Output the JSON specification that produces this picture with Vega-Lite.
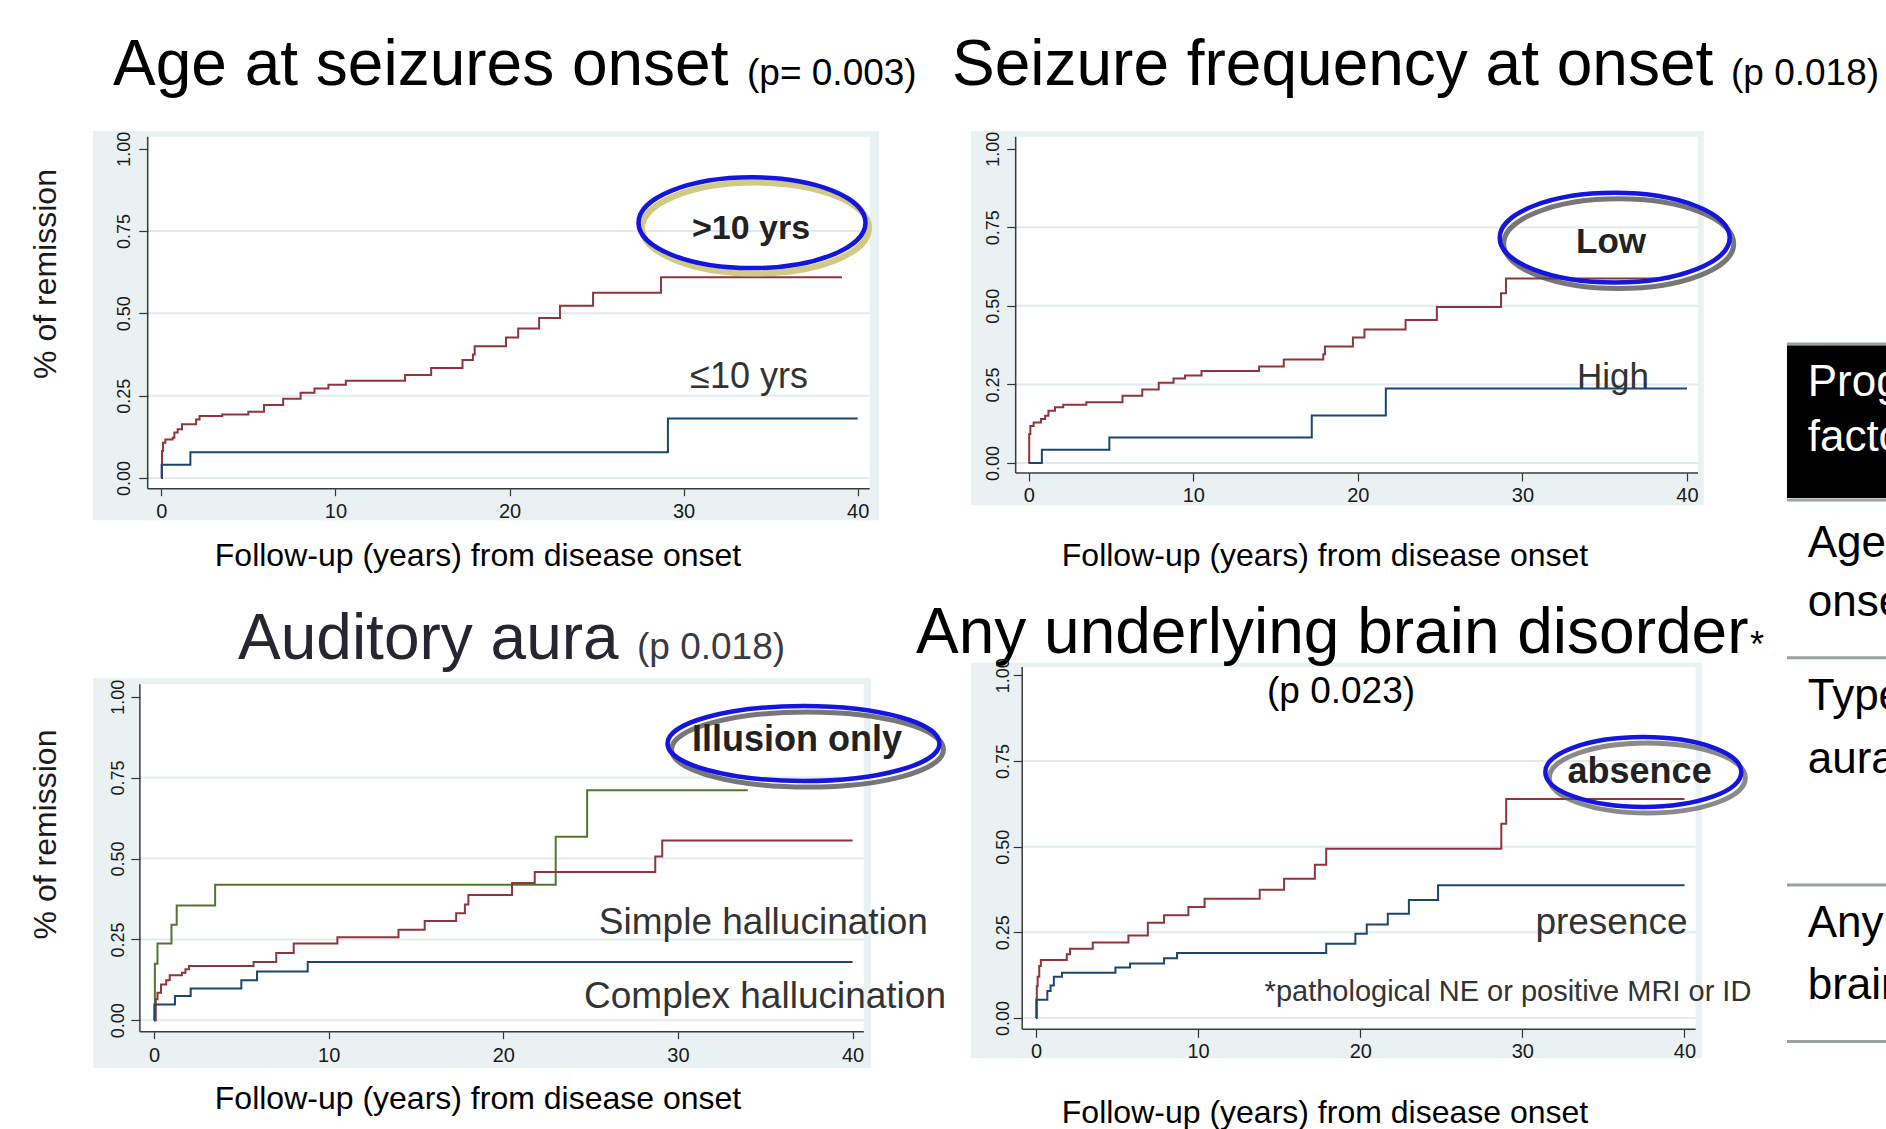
{
"$schema": "https://vega.github.io/schema/vega-lite/v6.json",
"padding": 0,
"background": "white",
"spacing": 0,
"bounds": "flush",
"columns": 3,
"config": {"view": {"stroke": "transparent"}, "font": "Liberation Sans", "text": {"font": "Liberation Sans"}, "axis": {"labelFont": "Liberation Sans"}},
"resolve": {"scale": {"x": "independent", "y": "independent", "color": "independent"}},
"datasets": {
"km": [
{"panel":"age","group":">10 yrs","t":0,"s":0},{"panel":"age","group":">10 yrs","t":0.04,"s":0.082},{"panel":"age","group":">10 yrs","t":0.1,"s":0.107},{"panel":"age","group":">10 yrs","t":0.23,"s":0.117},{"panel":"age","group":">10 yrs","t":0.65,"s":0.122},{"panel":"age","group":">10 yrs","t":0.75,"s":0.138},{"panel":"age","group":">10 yrs","t":0.94,"s":0.148},{"panel":"age","group":">10 yrs","t":1.19,"s":0.163},{"panel":"age","group":">10 yrs","t":2.0,"s":0.178},{"panel":"age","group":">10 yrs","t":2.2,"s":0.188},{"panel":"age","group":">10 yrs","t":3.5,"s":0.193},{"panel":"age","group":">10 yrs","t":5.0,"s":0.201},{"panel":"age","group":">10 yrs","t":5.9,"s":0.222},{"panel":"age","group":">10 yrs","t":7.0,"s":0.241},{"panel":"age","group":">10 yrs","t":8.0,"s":0.259},{"panel":"age","group":">10 yrs","t":8.8,"s":0.272},{"panel":"age","group":">10 yrs","t":9.6,"s":0.283},{"panel":"age","group":">10 yrs","t":10.6,"s":0.295},{"panel":"age","group":">10 yrs","t":14.0,"s":0.3125},{"panel":"age","group":">10 yrs","t":15.5,"s":0.334},{"panel":"age","group":">10 yrs","t":17.3,"s":0.358},{"panel":"age","group":">10 yrs","t":17.9,"s":0.375},{"panel":"age","group":">10 yrs","t":18.0,"s":0.4},{"panel":"age","group":">10 yrs","t":19.8,"s":0.427},{"panel":"age","group":">10 yrs","t":20.5,"s":0.454},{"panel":"age","group":">10 yrs","t":21.7,"s":0.486},{"panel":"age","group":">10 yrs","t":22.9,"s":0.523},{"panel":"age","group":">10 yrs","t":24.8,"s":0.5625},{"panel":"age","group":">10 yrs","t":28.7,"s":0.61},{"panel":"age","group":">10 yrs","t":39.1,"s":0.61},
{"panel":"age","group":"≤10 yrs","t":0,"s":0},{"panel":"age","group":"≤10 yrs","t":0.02,"s":0.04},{"panel":"age","group":"≤10 yrs","t":1.67,"s":0.078},{"panel":"age","group":"≤10 yrs","t":29.1,"s":0.181},{"panel":"age","group":"≤10 yrs","t":40,"s":0.181},
{"panel":"freq","group":"Low","t":0,"s":0},{"panel":"freq","group":"Low","t":0.03,"s":0.092},{"panel":"freq","group":"Low","t":0.1,"s":0.118},{"panel":"freq","group":"Low","t":0.3,"s":0.129},{"panel":"freq","group":"Low","t":0.75,"s":0.14},{"panel":"freq","group":"Low","t":1.0,"s":0.15},{"panel":"freq","group":"Low","t":1.2,"s":0.166},{"panel":"freq","group":"Low","t":1.6,"s":0.177},{"panel":"freq","group":"Low","t":2.1,"s":0.185},{"panel":"freq","group":"Low","t":3.5,"s":0.193},{"panel":"freq","group":"Low","t":5.7,"s":0.214},{"panel":"freq","group":"Low","t":6.9,"s":0.234},{"panel":"freq","group":"Low","t":7.9,"s":0.255},{"panel":"freq","group":"Low","t":8.8,"s":0.269},{"panel":"freq","group":"Low","t":9.5,"s":0.278},{"panel":"freq","group":"Low","t":10.5,"s":0.293},{"panel":"freq","group":"Low","t":14.0,"s":0.307},{"panel":"freq","group":"Low","t":15.5,"s":0.329},{"panel":"freq","group":"Low","t":17.9,"s":0.346},{"panel":"freq","group":"Low","t":18.0,"s":0.371},{"panel":"freq","group":"Low","t":19.7,"s":0.399},{"panel":"freq","group":"Low","t":20.4,"s":0.425},{"panel":"freq","group":"Low","t":22.9,"s":0.455},{"panel":"freq","group":"Low","t":24.8,"s":0.496},{"panel":"freq","group":"Low","t":28.7,"s":0.54},{"panel":"freq","group":"Low","t":29.0,"s":0.587},{"panel":"freq","group":"Low","t":39,"s":0.587},
{"panel":"freq","group":"High","t":0,"s":0},{"panel":"freq","group":"High","t":0.8,"s":0.042},{"panel":"freq","group":"High","t":4.9,"s":0.081},{"panel":"freq","group":"High","t":17.2,"s":0.151},{"panel":"freq","group":"High","t":21.7,"s":0.237},{"panel":"freq","group":"High","t":40,"s":0.237},
{"panel":"aura","group":"Illusion only","t":0,"s":0},{"panel":"aura","group":"Illusion only","t":0.05,"s":0.175},{"panel":"aura","group":"Illusion only","t":0.2,"s":0.237},{"panel":"aura","group":"Illusion only","t":1.0,"s":0.295},{"panel":"aura","group":"Illusion only","t":1.3,"s":0.355},{"panel":"aura","group":"Illusion only","t":3.5,"s":0.419},{"panel":"aura","group":"Illusion only","t":23.0,"s":0.567},{"panel":"aura","group":"Illusion only","t":24.8,"s":0.711},{"panel":"aura","group":"Illusion only","t":34.0,"s":0.711},
{"panel":"aura","group":"Simple hallucination","t":0,"s":0},{"panel":"aura","group":"Simple hallucination","t":0.1,"s":0.065},{"panel":"aura","group":"Simple hallucination","t":0.2,"s":0.085},{"panel":"aura","group":"Simple hallucination","t":0.4,"s":0.111},{"panel":"aura","group":"Simple hallucination","t":0.7,"s":0.124},{"panel":"aura","group":"Simple hallucination","t":0.9,"s":0.139},{"panel":"aura","group":"Simple hallucination","t":1.6,"s":0.147},{"panel":"aura","group":"Simple hallucination","t":1.8,"s":0.158},{"panel":"aura","group":"Simple hallucination","t":2.0,"s":0.168},{"panel":"aura","group":"Simple hallucination","t":5.7,"s":0.18},{"panel":"aura","group":"Simple hallucination","t":7.0,"s":0.208},{"panel":"aura","group":"Simple hallucination","t":8.0,"s":0.237},{"panel":"aura","group":"Simple hallucination","t":10.5,"s":0.257},{"panel":"aura","group":"Simple hallucination","t":14.0,"s":0.28},{"panel":"aura","group":"Simple hallucination","t":15.5,"s":0.307},{"panel":"aura","group":"Simple hallucination","t":17.3,"s":0.331},{"panel":"aura","group":"Simple hallucination","t":17.8,"s":0.358},{"panel":"aura","group":"Simple hallucination","t":18.0,"s":0.387},{"panel":"aura","group":"Simple hallucination","t":20.5,"s":0.424},{"panel":"aura","group":"Simple hallucination","t":21.8,"s":0.458},{"panel":"aura","group":"Simple hallucination","t":28.7,"s":0.506},{"panel":"aura","group":"Simple hallucination","t":29.1,"s":0.556},{"panel":"aura","group":"Simple hallucination","t":40,"s":0.556},
{"panel":"aura","group":"Complex hallucination","t":0,"s":0},{"panel":"aura","group":"Complex hallucination","t":0.02,"s":0.049},{"panel":"aura","group":"Complex hallucination","t":1.2,"s":0.075},{"panel":"aura","group":"Complex hallucination","t":2.1,"s":0.098},{"panel":"aura","group":"Complex hallucination","t":5.0,"s":0.124},{"panel":"aura","group":"Complex hallucination","t":5.9,"s":0.151},{"panel":"aura","group":"Complex hallucination","t":8.8,"s":0.18},{"panel":"aura","group":"Complex hallucination","t":40,"s":0.18},
{"panel":"brain","group":"absence","t":0,"s":0},{"panel":"brain","group":"absence","t":0.05,"s":0.093},{"panel":"brain","group":"absence","t":0.1,"s":0.12},{"panel":"brain","group":"absence","t":0.2,"s":0.152},{"panel":"brain","group":"absence","t":0.3,"s":0.169},{"panel":"brain","group":"absence","t":1.9,"s":0.186},{"panel":"brain","group":"absence","t":2.1,"s":0.202},{"panel":"brain","group":"absence","t":3.5,"s":0.22},{"panel":"brain","group":"absence","t":5.7,"s":0.241},{"panel":"brain","group":"absence","t":6.9,"s":0.278},{"panel":"brain","group":"absence","t":7.9,"s":0.3},{"panel":"brain","group":"absence","t":9.4,"s":0.324},{"panel":"brain","group":"absence","t":10.4,"s":0.348},{"panel":"brain","group":"absence","t":13.8,"s":0.374},{"panel":"brain","group":"absence","t":15.3,"s":0.406},{"panel":"brain","group":"absence","t":17.2,"s":0.447},{"panel":"brain","group":"absence","t":17.9,"s":0.494},{"panel":"brain","group":"absence","t":28.7,"s":0.567},{"panel":"brain","group":"absence","t":29.0,"s":0.639},{"panel":"brain","group":"absence","t":40,"s":0.639},
{"panel":"brain","group":"presence","t":0,"s":0},{"panel":"brain","group":"presence","t":0.02,"s":0.0535},{"panel":"brain","group":"presence","t":0.7,"s":0.079},{"panel":"brain","group":"presence","t":0.9,"s":0.095},{"panel":"brain","group":"presence","t":1.1,"s":0.12},{"panel":"brain","group":"presence","t":1.6,"s":0.132},{"panel":"brain","group":"presence","t":4.9,"s":0.147},{"panel":"brain","group":"presence","t":5.8,"s":0.159},{"panel":"brain","group":"presence","t":7.9,"s":0.174},{"panel":"brain","group":"presence","t":8.7,"s":0.19},{"panel":"brain","group":"presence","t":17.9,"s":0.217},{"panel":"brain","group":"presence","t":19.7,"s":0.246},{"panel":"brain","group":"presence","t":20.4,"s":0.273},{"panel":"brain","group":"presence","t":21.7,"s":0.304},{"panel":"brain","group":"presence","t":23.0,"s":0.344},{"panel":"brain","group":"presence","t":24.8,"s":0.387},{"panel":"brain","group":"presence","t":40,"s":0.387}
],
"table": [
{"row":"header","line1":"Prognostic","line2":"factors"},
{"row":"age","line1":"Age at","line2":"onset"},
{"row":"aura","line1":"Type of","line2":"aura"},
{"row":"brain","line1":"Any underlying","line2":"brain disorder"}
],
"grid": [{"v":0},{"v":0.25},{"v":0.5},{"v":0.75}]
},
"concat": [
{
"width": 930, "height": 590,
"layer": [
{"data": {"values": [{}]}, "mark": {"type": "rect", "color": "#E9F1F3"}, "encoding": {
 "x": {"datum": -3.923, "type": "quantitative", "scale": {"domain": [-9.2074, 44.2102], "nice": false, "zero": false}, "axis": {"values": [0,10,20,30,40], "title": null, "offset": -102.3, "domain": false, "grid": false, "tickSize": 7, "tickWidth": 1.2, "tickColor": "#333333", "labelPadding": 6, "labelFontSize": 20, "labelColor": "#1a1a1a", "labelBaseline": "top", "labelFlush": false, "labelOverlap": false, "zindex": 3}},
 "x2": {"datum": 41.223},
 "y": {"datum": -0.1285, "type": "quantitative", "scale": {"domain": [-0.34315, 1.44853], "nice": false, "zero": false}, "axis": {"values": [0,0.25,0.5,0.75,1], "format": ".2f", "title": null, "offset": -146.7, "domain": false, "grid": false, "tickSize": 9, "tickWidth": 1.2, "tickColor": "#333333", "labelPadding": 9, "labelAngle": 270, "labelAlign": "center", "labelBaseline": "alphabetic", "labelFontSize": 18, "labelColor": "#1a1a1a", "labelFlush": false, "labelOverlap": false, "zindex": 3}},
 "y2": {"datum": 1.0538}}},
{"data": {"values": [{}]}, "mark": {"type": "rect", "color": "#FFFFFF"}, "encoding": {"x": {"datum": -0.781}, "x2": {"datum": 40.689}, "y": {"datum": -0.0325}, "y2": {"datum": 1.0364}}},
{"data": {"name": "grid"}, "mark": {"type": "rule", "color": "#E2EBEE", "strokeWidth": 2}, "encoding": {"x": {"datum": -0.781}, "x2": {"datum": 40.689}, "y": {"field": "v", "type": "quantitative"}}},
{"data": {"values": [{}]}, "mark": {"type": "rule", "color": "#3a3a3a", "strokeWidth": 1.5}, "encoding": {"x": {"datum": -0.781}, "y": {"datum": -0.0325}, "y2": {"datum": 1.0364}}},
{"data": {"values": [{}]}, "mark": {"type": "rule", "color": "#3a3a3a", "strokeWidth": 1.5}, "encoding": {"x": {"datum": -0.781}, "x2": {"datum": 40.689}, "y": {"datum": -0.0325}}},
{"data": {"name": "km"}, "transform": [{"filter": "datum.panel === 'age'"}], "mark": {"type": "line", "interpolate": "step-after", "strokeWidth": 2},
 "encoding": {
  "x": {"field": "t", "type": "quantitative", "scale": {"domain": [-9.2074, 44.2102], "nice": false, "zero": false}, "axis": {"values": [0,10,20,30,40], "title": null, "offset": -102.3, "domain": false, "grid": false, "tickSize": 7, "tickWidth": 1.2, "tickColor": "#333333", "labelPadding": 6, "labelFontSize": 20, "labelColor": "#1a1a1a", "labelBaseline": "top", "labelFlush": false, "labelOverlap": false, "zindex": 3}},
  "y": {"field": "s", "type": "quantitative", "scale": {"domain": [-0.34315, 1.44853], "nice": false, "zero": false}, "axis": {"values": [0,0.25,0.5,0.75,1], "format": ".2f", "title": null, "offset": -146.7, "domain": false, "grid": false, "tickSize": 9, "tickWidth": 1.2, "tickColor": "#333333", "labelPadding": 9, "labelAngle": 270, "labelAlign": "center", "labelBaseline": "alphabetic", "labelFontSize": 18, "labelColor": "#1a1a1a", "labelFlush": false, "labelOverlap": false, "zindex": 3}},
  "color": {"field": "group", "type": "nominal", "scale": {"domain": [">10 yrs", "≤10 yrs"], "range": ["#90353b", "#1a476f"]}, "legend": null}}},
{"data": {"values": [{}]}, "mark": {"type": "point", "shape": "M-1,0C-1,-0.2209,-0.5523,-0.4,0,-0.4C0.5523,-0.4,1,-0.2209,1,0C1,0.2209,0.5523,0.4,0,0.4C-0.5523,0.4,-1,0.2209,-1,0Z", "size": 51529, "filled": false, "color": "#cdc47a", "stroke": "#cdc47a", "strokeWidth": 6, "opacity": 0.9}, "encoding": {"x": {"datum": 34.13}, "y": {"datum": 0.7592}}},
{"data": {"values": [{}]}, "mark": {"type": "point", "shape": "M-1,0C-1,-0.2209,-0.5523,-0.4,0,-0.4C0.5523,-0.4,1,-0.2209,1,0C1,0.2209,0.5523,0.4,0,0.4C-0.5523,0.4,-1,0.2209,-1,0Z", "size": 51529, "filled": false, "color": "#1515e0", "stroke": "#1515e0", "strokeWidth": 4.5, "opacity": 1}, "encoding": {"x": {"datum": 33.929}, "y": {"datum": 0.7753}}},
{"data": {"values": [{}]}, "mark": {"type": "text", "text": ">10 yrs", "fontSize": 34, "fontWeight": "bold", "align": "center", "baseline": "alphabetic", "color": "#222222"}, "encoding": {"x": {"datum": 33.871}, "y": {"datum": 0.7249}}},
{"data": {"values": [{}]}, "mark": {"type": "text", "text": "≤10 yrs", "fontSize": 36, "align": "center", "baseline": "alphabetic", "color": "#333333"}, "encoding": {"x": {"datum": 33.757}, "y": {"datum": 0.2742}}},
{"data": {"values": [{}]}, "mark": {"type": "text", "text": "Age at seizures onset", "fontSize": 64, "align": "left", "baseline": "alphabetic", "color": "#000000"}, "encoding": {"x": {"datum": -2.774}, "y": {"datum": 1.1934}}},
{"data": {"values": [{}]}, "mark": {"type": "text", "text": "(p= 0.003)", "fontSize": 37, "align": "left", "baseline": "alphabetic", "color": "#000000"}, "encoding": {"x": {"datum": 33.641}, "y": {"datum": 1.1934}}},
{"data": {"values": [{}]}, "mark": {"type": "text", "text": "% of remission", "fontSize": 32, "angle": 270, "align": "center", "baseline": "alphabetic", "color": "#1a1a1a"}, "encoding": {"x": {"datum": -6.048}, "y": {"datum": 0.6195}}},
{"data": {"values": [{}]}, "mark": {"type": "text", "text": "Follow-up (years) from disease onset", "fontSize": 32, "align": "center", "baseline": "alphabetic", "color": "#000000"}, "encoding": {"x": {"datum": 18.19}, "y": {"datum": -0.2672}}}
]
},
{
"width": 830, "height": 590,
"layer": [
{"data": {"values": [{}]}, "mark": {"type": "rect", "color": "#E9F1F3"}, "encoding": {
 "x": {"datum": -3.506, "type": "quantitative", "scale": {"domain": [-5.9365, 44.4965], "nice": false, "zero": false}, "axis": {"values": [0,10,20,30,40], "title": null, "offset": -118, "domain": false, "grid": false, "tickSize": 8, "tickWidth": 1.2, "tickColor": "#333333", "labelPadding": 4, "labelFontSize": 20, "labelColor": "#1a1a1a", "labelBaseline": "top", "labelFlush": false, "labelOverlap": false, "zindex": 3}},
 "x2": {"datum": 41.015},
 "y": {"datum": -0.1346, "type": "quantitative", "scale": {"domain": [-0.40726, 1.46994], "nice": false, "zero": false}, "axis": {"values": [0,0.25,0.5,0.75,1], "format": ".2f", "title": null, "offset": -84.7, "domain": false, "grid": false, "tickSize": 9, "tickWidth": 1.2, "tickColor": "#333333", "labelPadding": 8, "labelAngle": 270, "labelAlign": "center", "labelBaseline": "alphabetic", "labelFontSize": 18, "labelColor": "#1a1a1a", "labelFlush": false, "labelOverlap": false, "zindex": 3}},
 "y2": {"datum": 1.0563}}},
{"data": {"values": [{}]}, "mark": {"type": "rect", "color": "#FFFFFF"}, "encoding": {"x": {"datum": -0.79}, "x2": {"datum": 40.668}, "y": {"datum": -0.0318}, "y2": {"datum": 1.0382}}},
{"data": {"name": "grid"}, "mark": {"type": "rule", "color": "#E2EBEE", "strokeWidth": 2}, "encoding": {"x": {"datum": -0.79}, "x2": {"datum": 40.668}, "y": {"field": "v", "type": "quantitative"}}},
{"data": {"values": [{}]}, "mark": {"type": "rule", "color": "#3a3a3a", "strokeWidth": 1.5}, "encoding": {"x": {"datum": -0.79}, "y": {"datum": -0.0318}, "y2": {"datum": 1.0382}}},
{"data": {"values": [{}]}, "mark": {"type": "rule", "color": "#3a3a3a", "strokeWidth": 1.5}, "encoding": {"x": {"datum": -0.79}, "x2": {"datum": 40.668}, "y": {"datum": -0.0318}}},
{"data": {"name": "km"}, "transform": [{"filter": "datum.panel === 'freq'"}], "mark": {"type": "line", "interpolate": "step-after", "strokeWidth": 2},
 "encoding": {
  "x": {"field": "t", "type": "quantitative", "scale": {"domain": [-5.9365, 44.4965], "nice": false, "zero": false}, "axis": {"values": [0,10,20,30,40], "title": null, "offset": -118, "domain": false, "grid": false, "tickSize": 8, "tickWidth": 1.2, "tickColor": "#333333", "labelPadding": 4, "labelFontSize": 20, "labelColor": "#1a1a1a", "labelBaseline": "top", "labelFlush": false, "labelOverlap": false, "zindex": 3}},
  "y": {"field": "s", "type": "quantitative", "scale": {"domain": [-0.40726, 1.46994], "nice": false, "zero": false}, "axis": {"values": [0,0.25,0.5,0.75,1], "format": ".2f", "title": null, "offset": -84.7, "domain": false, "grid": false, "tickSize": 9, "tickWidth": 1.2, "tickColor": "#333333", "labelPadding": 8, "labelAngle": 270, "labelAlign": "center", "labelBaseline": "alphabetic", "labelFontSize": 18, "labelColor": "#1a1a1a", "labelFlush": false, "labelOverlap": false, "zindex": 3}},
  "color": {"field": "group", "type": "nominal", "scale": {"domain": ["Low", "High"], "range": ["#90353b", "#1a476f"]}, "legend": null}}},
{"data": {"values": [{}]}, "mark": {"type": "point", "shape": "M-1,0C-1,-0.2154,-0.5523,-0.39,0,-0.39C0.5523,-0.39,1,-0.2154,1,0C1,0.2154,0.5523,0.39,0,0.39C-0.5523,0.39,-1,0.2154,-1,0Z", "size": 52900, "filled": false, "color": "#4a4a4a", "stroke": "#4a4a4a", "strokeWidth": 5, "opacity": 0.75}, "encoding": {"x": {"datum": 35.85}, "y": {"datum": 0.69774}}},
{"data": {"values": [{}]}, "mark": {"type": "point", "shape": "M-1,0C-1,-0.2154,-0.5523,-0.39,0,-0.39C0.5523,-0.39,1,-0.2154,1,0C1,0.2154,0.5523,0.39,0,0.39C-0.5523,0.39,-1,0.2154,-1,0Z", "size": 52900, "filled": false, "color": "#1515e0", "stroke": "#1515e0", "strokeWidth": 4.5, "opacity": 1}, "encoding": {"x": {"datum": 35.607}, "y": {"datum": 0.71683}}},
{"data": {"values": [{}]}, "mark": {"type": "text", "text": "Low", "fontSize": 35, "fontWeight": "bold", "align": "center", "baseline": "alphabetic", "color": "#222222"}, "encoding": {"x": {"datum": 35.382}, "y": {"datum": 0.66911}}},
{"data": {"values": [{}]}, "mark": {"type": "text", "text": "High", "fontSize": 35, "align": "center", "baseline": "alphabetic", "color": "#333333"}, "encoding": {"x": {"datum": 35.504}, "y": {"datum": 0.23958}}},
{"data": {"values": [{}]}, "mark": {"type": "text", "text": "Seizure frequency at onset", "fontSize": 64, "align": "left", "baseline": "alphabetic", "color": "#000000"}, "encoding": {"x": {"datum": -4.6605}, "y": {"datum": 1.20267}}},
{"data": {"values": [{}]}, "mark": {"type": "text", "text": "(p 0.018)", "fontSize": 37, "align": "left", "baseline": "alphabetic", "color": "#000000"}, "encoding": {"x": {"datum": 42.674}, "y": {"datum": 1.20267}}},
{"data": {"values": [{}]}, "mark": {"type": "text", "text": "Follow-up (years) from disease onset", "fontSize": 32, "align": "center", "baseline": "alphabetic", "color": "#000000"}, "encoding": {"x": {"datum": 18.004}, "y": {"datum": -0.32771}}}
]
},
{
"width": 126, "height": 590,
"layer": [
{"data": {"values": [{}]}, "mark": {"type": "rule", "color": "#9aa39b", "strokeWidth": 3}, "encoding": {"x": {"datum": 20.63, "type": "quantitative", "scale": {"domain": [0, 100], "nice": false, "zero": false}, "axis": null}, "x2": {"datum": 100}, "y": {"datum": 30.381, "type": "quantitative", "scale": {"domain": [0, 52.2586], "nice": false, "zero": false, "reverse": true}, "axis": null}}},
{"data": {"values": [{}]}, "mark": {"type": "rect", "color": "#000000"}, "encoding": {"x": {"datum": 20.63, "axis": null}, "x2": {"datum": 100}, "y": {"datum": 30.514, "axis": null}, "y2": {"datum": 44.021}}},
{"data": {"values": [{}]}, "mark": {"type": "rule", "color": "#9aa39b", "strokeWidth": 3}, "encoding": {"x": {"datum": 20.63, "axis": null}, "x2": {"datum": 100}, "y": {"datum": 44.198, "axis": null}}},
{"data": {"name": "table"}, "transform": [{"filter": "datum.row === 'header'"}], "mark": {"type": "text", "fontSize": 44, "align": "left", "baseline": "alphabetic", "color": "#FFFFFF", "clip": true}, "encoding": {"text": {"field": "line1"}, "x": {"datum": 37.06, "axis": null}, "y": {"datum": 34.987, "axis": null}}},
{"data": {"name": "table"}, "transform": [{"filter": "datum.row === 'header'"}], "mark": {"type": "text", "fontSize": 44, "align": "left", "baseline": "alphabetic", "color": "#FFFFFF", "clip": true}, "encoding": {"text": {"field": "line2"}, "x": {"datum": 37.06, "axis": null}, "y": {"datum": 39.858, "axis": null}}},
{"data": {"name": "table"}, "transform": [{"filter": "datum.row === 'age'"}], "mark": {"type": "text", "fontSize": 44, "align": "left", "baseline": "alphabetic", "color": "#000000", "clip": true}, "encoding": {"text": {"field": "line1"}, "x": {"datum": 37.06, "axis": null}, "y": {"datum": 49.247, "axis": null}}}
]
},
{
"width": 930, "height": 539,
"layer": [
{"data": {"values": [{}]}, "mark": {"type": "rect", "color": "#E9F1F3"}, "encoding": {
 "x": {"datum": -3.4755, "type": "quantitative", "scale": {"domain": [-8.7604, 44.4889], "nice": false, "zero": false}, "axis": {"values": [0,10,20,30,40], "title": null, "offset": -98.3, "domain": false, "grid": false, "tickSize": 7, "tickWidth": 1.2, "tickColor": "#333333", "labelPadding": 7, "labelFontSize": 20, "labelColor": "#1a1a1a", "labelBaseline": "top", "labelFlush": false, "labelOverlap": false, "zindex": 3}},
 "x2": {"datum": 41.054},
 "y": {"datum": -0.1465, "type": "quantitative", "scale": {"domain": [-0.339, 1.32664], "nice": false, "zero": false}, "axis": {"values": [0,0.25,0.5,0.75,1], "format": ".2f", "title": null, "offset": -138.9, "domain": false, "grid": false, "tickSize": 9, "tickWidth": 1.2, "tickColor": "#333333", "labelPadding": 7, "labelAngle": 270, "labelAlign": "center", "labelBaseline": "alphabetic", "labelFontSize": 18, "labelColor": "#1a1a1a", "labelFlush": false, "labelOverlap": false, "zindex": 3}},
 "y2": {"datum": 1.0569}}},
{"data": {"values": [{}]}, "mark": {"type": "rect", "color": "#FFFFFF"}, "encoding": {"x": {"datum": -0.8073}, "x2": {"datum": 40.642}, "y": {"datum": -0.0352}, "y2": {"datum": 1.0383}}},
{"data": {"name": "grid"}, "mark": {"type": "rule", "color": "#E2EBEE", "strokeWidth": 2}, "encoding": {"x": {"datum": -0.8073}, "x2": {"datum": 40.642}, "y": {"field": "v", "type": "quantitative"}}},
{"data": {"values": [{}]}, "mark": {"type": "rule", "color": "#3a3a3a", "strokeWidth": 1.5}, "encoding": {"x": {"datum": -0.8073}, "y": {"datum": -0.0352}, "y2": {"datum": 1.0383}}},
{"data": {"values": [{}]}, "mark": {"type": "rule", "color": "#3a3a3a", "strokeWidth": 1.5}, "encoding": {"x": {"datum": -0.8073}, "x2": {"datum": 40.642}, "y": {"datum": -0.0352}}},
{"data": {"name": "km"}, "transform": [{"filter": "datum.panel === 'aura'"}], "mark": {"type": "line", "interpolate": "step-after", "strokeWidth": 2},
 "encoding": {
  "x": {"field": "t", "type": "quantitative", "scale": {"domain": [-8.7604, 44.4889], "nice": false, "zero": false}, "axis": {"values": [0,10,20,30,40], "title": null, "offset": -98.3, "domain": false, "grid": false, "tickSize": 7, "tickWidth": 1.2, "tickColor": "#333333", "labelPadding": 7, "labelFontSize": 20, "labelColor": "#1a1a1a", "labelBaseline": "top", "labelFlush": false, "labelOverlap": false, "zindex": 3}},
  "y": {"field": "s", "type": "quantitative", "scale": {"domain": [-0.339, 1.32664], "nice": false, "zero": false}, "axis": {"values": [0,0.25,0.5,0.75,1], "format": ".2f", "title": null, "offset": -138.9, "domain": false, "grid": false, "tickSize": 9, "tickWidth": 1.2, "tickColor": "#333333", "labelPadding": 7, "labelAngle": 270, "labelAlign": "center", "labelBaseline": "alphabetic", "labelFontSize": 18, "labelColor": "#1a1a1a", "labelFlush": false, "labelOverlap": false, "zindex": 3}},
  "color": {"field": "group", "type": "nominal", "scale": {"domain": ["Illusion only", "Simple hallucination", "Complex hallucination"], "range": ["#55752f", "#90353b", "#1a476f"]}, "legend": null}}},
{"data": {"values": [{}]}, "mark": {"type": "point", "shape": "M-1,0C-1,-0.1524,-0.5523,-0.276,0,-0.276C0.5523,-0.276,1,-0.1524,1,0C1,0.1524,0.5523,0.276,0,0.276C-0.5523,0.276,-1,0.1524,-1,0Z", "size": 73984, "filled": false, "color": "#4a4a4a", "stroke": "#4a4a4a", "strokeWidth": 5, "opacity": 0.75}, "encoding": {"x": {"datum": 37.418}, "y": {"datum": 0.83684}}},
{"data": {"values": [{}]}, "mark": {"type": "point", "shape": "M-1,0C-1,-0.1524,-0.5523,-0.276,0,-0.276C0.5523,-0.276,1,-0.1524,1,0C1,0.1524,0.5523,0.276,0,0.276C-0.5523,0.276,-1,0.1524,-1,0Z", "size": 73984, "filled": false, "color": "#1515e0", "stroke": "#1515e0", "strokeWidth": 4.5, "opacity": 1}, "encoding": {"x": {"datum": 37.189}, "y": {"datum": 0.85538}}},
{"data": {"values": [{}]}, "mark": {"type": "text", "text": "Illusion only", "fontSize": 36, "fontWeight": "bold", "align": "center", "baseline": "alphabetic", "color": "#222222"}, "encoding": {"x": {"datum": 36.816}, "y": {"datum": 0.8322}}},
{"data": {"values": [{}]}, "mark": {"type": "text", "text": "Simple hallucination", "fontSize": 37, "align": "center", "baseline": "alphabetic", "color": "#333333"}, "encoding": {"x": {"datum": 34.893}, "y": {"datum": 0.26576}}},
{"data": {"values": [{}]}, "mark": {"type": "text", "text": "Complex hallucination", "fontSize": 37, "align": "center", "baseline": "alphabetic", "color": "#333333"}, "encoding": {"x": {"datum": 34.984}, "y": {"datum": 0.038937}}},
{"data": {"values": [{}]}, "mark": {"type": "text", "text": "Auditory aura", "fontSize": 64, "align": "left", "baseline": "alphabetic", "color": "#262633"}, "encoding": {"x": {"datum": 4.8096}, "y": {"datum": 1.11557}}},
{"data": {"values": [{}]}, "mark": {"type": "text", "text": "(p 0.018)", "fontSize": 37, "align": "left", "baseline": "alphabetic", "color": "#3a3a44"}, "encoding": {"x": {"datum": 27.655}, "y": {"datum": 1.11557}}},
{"data": {"values": [{}]}, "mark": {"type": "text", "text": "% of remission", "fontSize": 32, "angle": 270, "align": "center", "baseline": "alphabetic", "color": "#1a1a1a"}, "encoding": {"x": {"datum": -5.6112}, "y": {"datum": 0.57417}}},
{"data": {"values": [{}]}, "mark": {"type": "text", "text": "Follow-up (years) from disease onset", "fontSize": 32, "align": "center", "baseline": "alphabetic", "color": "#000000"}, "encoding": {"x": {"datum": 18.551}, "y": {"datum": -0.27503}}}
]
},
{
"width": 830, "height": 539,
"layer": [
{"data": {"values": [{}]}, "mark": {"type": "rect", "color": "#E9F1F3"}, "encoding": {
 "x": {"datum": -3.997, "type": "quantitative", "scale": {"domain": [-6.4765, 44.7186], "nice": false, "zero": false}, "axis": {"values": [0,10,20,30,40], "title": null, "offset": -100.7, "domain": false, "grid": false, "tickSize": 8, "tickWidth": 1.2, "tickColor": "#333333", "labelPadding": 4, "labelFontSize": 20, "labelColor": "#1a1a1a", "labelBaseline": "top", "labelFlush": false, "labelOverlap": false, "zindex": 3}},
 "x2": {"datum": 41.067},
 "y": {"datum": -0.1176, "type": "quantitative", "scale": {"domain": [-0.32682, 1.24598], "nice": false, "zero": false}, "axis": {"values": [0,0.25,0.5,0.75,1], "format": ".2f", "title": null, "offset": -91.2, "domain": false, "grid": false, "tickSize": 9, "tickWidth": 1.2, "tickColor": "#333333", "labelPadding": 5, "labelAngle": 270, "labelAlign": "center", "labelBaseline": "alphabetic", "labelFontSize": 18, "labelColor": "#1a1a1a", "labelFlush": false, "labelOverlap": false, "zindex": 3}},
 "y2": {"datum": 1.0368}}},
{"data": {"values": [{}]}, "mark": {"type": "rect", "color": "#FFFFFF"}, "encoding": {"x": {"datum": -0.851}, "x2": {"datum": 40.691}, "y": {"datum": -0.033}, "y2": {"datum": 1.0242}}},
{"data": {"name": "grid"}, "mark": {"type": "rule", "color": "#E2EBEE", "strokeWidth": 2}, "encoding": {"x": {"datum": -0.851}, "x2": {"datum": 40.691}, "y": {"field": "v", "type": "quantitative"}}},
{"data": {"values": [{}]}, "mark": {"type": "rule", "color": "#3a3a3a", "strokeWidth": 1.5}, "encoding": {"x": {"datum": -0.851}, "y": {"datum": -0.033}, "y2": {"datum": 1.0242}}},
{"data": {"values": [{}]}, "mark": {"type": "rule", "color": "#3a3a3a", "strokeWidth": 1.5}, "encoding": {"x": {"datum": -0.851}, "x2": {"datum": 40.691}, "y": {"datum": -0.033}}},
{"data": {"name": "km"}, "transform": [{"filter": "datum.panel === 'brain'"}], "mark": {"type": "line", "interpolate": "step-after", "strokeWidth": 2},
 "encoding": {
  "x": {"field": "t", "type": "quantitative", "scale": {"domain": [-6.4765, 44.7186], "nice": false, "zero": false}, "axis": {"values": [0,10,20,30,40], "title": null, "offset": -100.7, "domain": false, "grid": false, "tickSize": 8, "tickWidth": 1.2, "tickColor": "#333333", "labelPadding": 4, "labelFontSize": 20, "labelColor": "#1a1a1a", "labelBaseline": "top", "labelFlush": false, "labelOverlap": false, "zindex": 3}},
  "y": {"field": "s", "type": "quantitative", "scale": {"domain": [-0.32682, 1.24598], "nice": false, "zero": false}, "axis": {"values": [0,0.25,0.5,0.75,1], "format": ".2f", "title": null, "offset": -91.2, "domain": false, "grid": false, "tickSize": 9, "tickWidth": 1.2, "tickColor": "#333333", "labelPadding": 5, "labelAngle": 270, "labelAlign": "center", "labelBaseline": "alphabetic", "labelFontSize": 18, "labelColor": "#1a1a1a", "labelFlush": false, "labelOverlap": false, "zindex": 3}},
  "color": {"field": "group", "type": "nominal", "scale": {"domain": ["absence", "presence"], "range": ["#90353b", "#1a476f"]}, "legend": null}}},
{"data": {"values": [{}]}, "mark": {"type": "point", "shape": "M-1,0C-1,-0.1972,-0.5523,-0.357,0,-0.357C0.5523,-0.357,1,-0.1972,1,0C1,0.1972,0.5523,0.357,0,0.357C-0.5523,0.357,-1,0.1972,-1,0Z", "size": 38416, "filled": false, "color": "#5a5a5a", "stroke": "#5a5a5a", "strokeWidth": 5, "opacity": 0.7}, "encoding": {"x": {"datum": 37.706}, "y": {"datum": 0.70032}}},
{"data": {"values": [{}]}, "mark": {"type": "point", "shape": "M-1,0C-1,-0.1972,-0.5523,-0.357,0,-0.357C0.5523,-0.357,1,-0.1972,1,0C1,0.1972,0.5523,0.357,0,0.357C-0.5523,0.357,-1,0.1972,-1,0Z", "size": 38416, "filled": false, "color": "#1515e0", "stroke": "#1515e0", "strokeWidth": 4.5, "opacity": 1}, "encoding": {"x": {"datum": 37.459}, "y": {"datum": 0.71783}}},
{"data": {"values": [{}]}, "mark": {"type": "text", "text": "absence", "fontSize": 36, "fontWeight": "bold", "align": "center", "baseline": "alphabetic", "color": "#222222"}, "encoding": {"x": {"datum": 37.231}, "y": {"datum": 0.68661}}},
{"data": {"values": [{}]}, "mark": {"type": "text", "text": "presence", "fontSize": 37, "align": "center", "baseline": "alphabetic", "color": "#333333"}, "encoding": {"x": {"datum": 35.497}, "y": {"datum": 0.24424}}},
{"data": {"values": [{}]}, "mark": {"type": "text", "text": "*pathological NE or positive MRI or ID", "fontSize": 29, "align": "left", "baseline": "alphabetic", "color": "#333333"}, "encoding": {"x": {"datum": 14.1}, "y": {"datum": 0.049606}}},
{"data": {"values": [{}]}, "mark": {"type": "text", "text": "Any underlying brain disorder", "fontSize": 64, "align": "left", "baseline": "alphabetic", "color": "#000000"}, "encoding": {"x": {"datum": -7.4017}, "y": {"datum": 1.06595}}},
{"data": {"values": [{}]}, "mark": {"type": "text", "text": "*", "fontSize": 36, "align": "left", "baseline": "alphabetic", "color": "#000000"}, "encoding": {"x": {"datum": 44.04}, "y": {"datum": 1.0534}}},
{"data": {"values": [{}]}, "mark": {"type": "text", "text": "(p 0.023)", "fontSize": 37, "align": "center", "baseline": "alphabetic", "color": "#000000"}, "encoding": {"x": {"datum": 18.813}, "y": {"datum": 0.92005}}},
{"data": {"values": [{}]}, "mark": {"type": "text", "text": "Follow-up (years) from disease onset", "fontSize": 32, "align": "center", "baseline": "alphabetic", "color": "#000000", "clip": true}, "encoding": {"x": {"datum": 17.826}, "y": {"datum": -0.30785}}}
]
},
{
"width": 126, "height": 539,
"layer": [
{"data": {"values": [{}]}, "mark": {"type": "rule", "color": "#9aa39b", "strokeWidth": 3}, "encoding": {"x": {"datum": 20.63, "type": "quantitative", "scale": {"domain": [0, 100], "nice": false, "zero": false}, "axis": null}, "x2": {"datum": 100}, "y": {"datum": 58.167, "type": "quantitative", "scale": {"domain": [52.2586, 100], "nice": false, "zero": false, "reverse": true}, "axis": null}}},
{"data": {"values": [{}]}, "mark": {"type": "rule", "color": "#9aa39b", "strokeWidth": 3}, "encoding": {"x": {"datum": 20.63, "axis": null}, "x2": {"datum": 100}, "y": {"datum": 78.299, "axis": null}}},
{"data": {"values": [{}]}, "mark": {"type": "rule", "color": "#9aa39b", "strokeWidth": 3}, "encoding": {"x": {"datum": 20.63, "axis": null}, "x2": {"datum": 100}, "y": {"datum": 92.152, "axis": null}}},
{"data": {"name": "table"}, "transform": [{"filter": "datum.row === 'age'"}], "mark": {"type": "text", "fontSize": 44, "align": "left", "baseline": "alphabetic", "color": "#000000", "clip": true}, "encoding": {"text": {"field": "line2"}, "x": {"datum": 37.06, "axis": null}, "y": {"datum": 54.473, "axis": null}}},
{"data": {"name": "table"}, "transform": [{"filter": "datum.row === 'aura'"}], "mark": {"type": "text", "fontSize": 44, "align": "left", "baseline": "alphabetic", "color": "#000000", "clip": true}, "encoding": {"text": {"field": "line1"}, "x": {"datum": 37.06, "axis": null}, "y": {"datum": 62.799, "axis": null}}},
{"data": {"name": "table"}, "transform": [{"filter": "datum.row === 'aura'"}], "mark": {"type": "text", "fontSize": 44, "align": "left", "baseline": "alphabetic", "color": "#000000", "clip": true}, "encoding": {"text": {"field": "line2"}, "x": {"datum": 37.06, "axis": null}, "y": {"datum": 68.379, "axis": null}}},
{"data": {"name": "table"}, "transform": [{"filter": "datum.row === 'brain'"}], "mark": {"type": "text", "fontSize": 44, "align": "left", "baseline": "alphabetic", "color": "#000000", "clip": true}, "encoding": {"text": {"field": "line1"}, "x": {"datum": 37.06, "axis": null}, "y": {"datum": 82.905, "axis": null}}},
{"data": {"name": "table"}, "transform": [{"filter": "datum.row === 'brain'"}], "mark": {"type": "text", "fontSize": 44, "align": "left", "baseline": "alphabetic", "color": "#000000", "clip": true}, "encoding": {"text": {"field": "line2"}, "x": {"datum": 37.06, "axis": null}, "y": {"datum": 88.397, "axis": null}}}
]
}
]
}
